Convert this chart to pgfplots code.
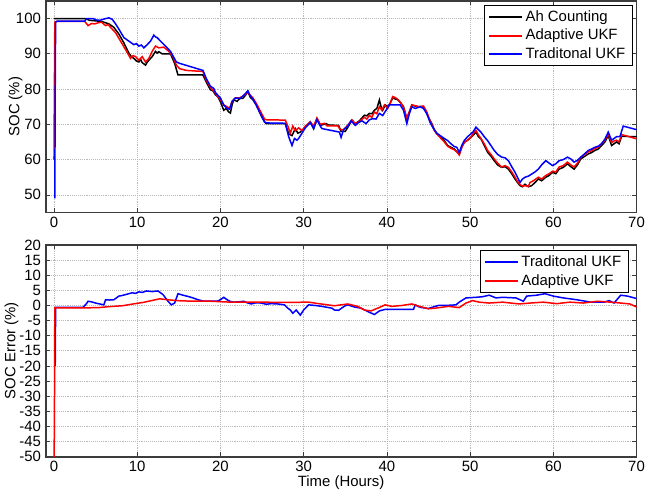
\documentclass[border=0pt]{standalone}
\usepackage{fontspec}
\setmainfont{Liberation Sans}
\usepackage{pgfplots}
\pgfplotsset{compat=1.18}
\usetikzlibrary{calc}

\definecolor{frame}{RGB}{60,60,60}

\pgfplotsset{
  socaxis/.style={
    width=435.75pt, height=156pt, scale only axis,
    xmin=-1, xmax=70,
    xtick={0,10,...,70},
    grid=major,
    grid style={densely dotted, gray!55, line width=0.5pt},
    axis line style={frame, line width=1.4pt},
    tick style={frame, line width=0.5pt},
    tick align=inside,
    major tick length=3pt,
    /pgf/number format/assume math mode=true,
    ticklabel style={font=\fontsize{11}{12}\selectfont},
    label style={font=\fontsize{11}{12}\selectfont},
    legend cell align=left,
    legend style={font=\fontsize{11}{12}\selectfont,
      inner xsep=3pt, inner ysep=2pt, row sep=0pt},
    every axis plot/.append style={line width=1.1pt},
  },
  legk/.style={legend image code/.code={\draw[black, line width=1.4pt] (0cm,0cm) -- (0.85cm,0cm);}},
  legr/.style={legend image code/.code={\draw[red, line width=1.4pt] (0cm,0cm) -- (0.85cm,0cm);}},
  legb/.style={legend image code/.code={\draw[blue, line width=1.4pt] (0cm,0cm) -- (0.85cm,0cm);}},
}

\begin{document}
\begin{tikzpicture}
\begin{axis}[socaxis, name=top,
  ymin=45, ymax=105,
  ytick={50,60,...,100},
  ylabel={SOC (\%)},
  ylabel style={at={(axis description cs:-0.031,0.5)}, anchor=south},
  legend style={at={(axis description cs:0.993,0.98)}, anchor=north east},
]
% Ah counting
\addplot[black, legk] coordinates {
(0,100)(3.7,100)(4.3,99.5)(5.7,99.2)(6.6,98.5)(7.2,97.5)(7.8,95.6)(8.4,93.1)(9,90.2)(9.3,89.2)(9.6,88.7)(9.9,88.0)(10.2,87.7)(10.4,88.5)(10.6,87.5)(11,86.8)(11.2,87.6)(11.4,88.2)(11.8,89.2)(12.2,90.7)(12.4,90.2)(12.6,90.6)(13,90)(14,90)(14.5,87.3)(14.9,84)(17.9,84)(18.3,82)(18.8,79.8)(19.1,79.5)(19.4,78.4)(19.7,77.8)(20,76.4)(20.4,74)(20.7,74.5)(21,73.5)(21.2,73.2)(21.4,75.5)(21.6,77)(22,76.5)(22.3,77.3)(22.7,77.4)(23,78.2)(23.3,79.3)(23.6,77.6)(23.9,77)(24.3,75.5)(24.7,73.5)(25,72)(25.3,70.7)(25.5,70.2)(27.8,70.2)(28.2,67.3)(28.6,66.8)(29,68.8)(29.3,67.5)(29.6,67.8)(30.2,69.2)(30.8,70.7)(31.2,68.8)(31.6,71.6)(32,69.7)(32.7,70.2)(33,69.8)(34.2,69.7)(34.5,68)(35,68)(35.4,69.5)(35.8,71.2)(36.2,70.2)(36.7,71)(37.3,72.6)(37.6,72.4)(37.9,73.1)(38.2,73)(38.5,74)(38.8,74.5)(39.1,76.9)(39.3,75)(39.5,74)(39.8,75.5)(40.1,75)(40.4,76)(40.7,77.5)(41,77.2)(41.3,77)(41.7,76)(42,75)(42.4,71.6)(42.7,73.5)(43,75.5)(43.4,75.2)(43.8,75)(44.4,75)(44.8,73.1)(45.1,71.5)(45.4,70.2)(45.7,68.5)(46,67.3)(46.5,66.5)(46.9,65.4)(47.3,64)(47.7,63.5)(48.1,63)(48.5,62)(48.7,61.5)(49,63.5)(49.3,64.9)(49.7,65.5)(50.1,66.3)(50.4,67)(50.7,67.8)(51,66.5)(51.3,65.9)(51.7,64)(52.1,62.1)(52.5,61)(52.9,59.7)(53.3,58.5)(53.8,57.8)(54.2,58)(54.6,57.3)(55,56)(55.4,54.5)(55.7,53.5)(56,52.6)(56.3,52.3)(56.6,53)(57,52.3)(57.4,52.6)(57.8,53.5)(58.2,54.5)(58.6,54)(59.1,55)(59.5,55.5)(59.9,56.4)(60.3,56)(60.7,57.3)(61.2,57.8)(61.7,58.8)(62.1,58)(62.5,57.3)(62.9,58.5)(63.3,60.2)(63.7,60.8)(64.2,61.6)(64.6,62)(65,62.6)(65.4,63)(65.8,64)(66.2,65)(66.6,66.8)(67,64)(67.3,64.5)(67.6,65)(67.9,64.5)(68.2,66.6)(70,66.5)
};
\addlegendentry{Ah Counting}
% adaptive UKF
\addplot[red, legr] coordinates {
(0,60)(0.05,80)(0.1,99)(0.3,99.2)(3.7,99.2)(4.1,98)(4.5,98.6)(4.9,98.5)(5.3,98.8)(5.7,99)(6.2,98)(6.5,98.3)(6.8,97.5)(7.4,96)(8,93.6)(8.6,91.2)(9.2,88.7)(9.5,89.5)(9.8,89.2)(10.2,88.2)(10.6,89.2)(11,87.7)(11.4,88.7)(11.8,90.7)(12.2,92.2)(12.6,91.7)(13.2,91.9)(13.8,90.7)(14.3,89.2)(14.7,86.8)(15.1,85.8)(15.9,85.3)(17.9,85)(18.3,82.5)(18.8,80.5)(19.4,78.8)(20,77)(20.4,75.5)(20.8,75)(21.1,74.5)(21.4,76.5)(21.8,77.5)(22.3,77.5)(22.7,78)(23.3,79)(23.6,78.2)(23.9,77.5)(24.3,76)(24.7,74.2)(25.3,71.5)(25.5,71.3)(27.8,71.2)(28.1,69.5)(28.4,67.5)(28.7,69.5)(29,68.2)(29.4,69)(29.8,68.2)(30.2,69.5)(30.8,70.7)(31.2,69.5)(31.6,71.8)(32,70)(32.5,70.3)(32.8,69.6)(34.1,69.6)(34.4,68.5)(34.8,68.5)(35.2,69.5)(35.8,71.2)(36.2,70.2)(36.7,70.8)(37.3,72)(37.6,71.5)(37.9,72.5)(38.2,72)(38.5,73.5)(38.8,73)(39.1,75)(39.4,74)(39.7,75.5)(40.1,74.5)(40.4,76)(40.7,77.9)(41,77.6)(41.3,77.1)(41.7,76)(42,74.8)(42.4,71.8)(42.7,73.5)(43,75.5)(43.4,75.3)(43.8,75)(44.4,75.2)(44.8,73.5)(45.1,71.5)(45.4,70)(45.7,68.3)(46,67.3)(46.5,66)(46.9,65)(47.3,63.8)(47.7,63.2)(48.1,62.8)(48.5,62)(48.7,61.3)(49,63.5)(49.3,64.9)(49.7,65.5)(50.1,66.3)(50.4,67.5)(50.7,68.3)(51,67)(51.3,66)(51.7,64.5)(52.1,62.6)(52.5,61.5)(52.9,60.2)(53.3,59)(53.8,57.9)(54.2,58.3)(54.6,57.8)(55,56.5)(55.4,55)(55.7,53.8)(56,52.9)(56.3,52.5)(56.6,52.6)(57,52.4)(57.2,53.5)(57.6,54)(58.2,55)(58.6,54.5)(59.1,55.5)(59.5,56)(59.9,56.7)(60.3,56.5)(60.7,57.9)(61.2,58.3)(61.7,59.3)(62.1,58.5)(62.5,57.9)(62.9,59)(63.3,60.7)(63.7,61.3)(64.2,62.2)(64.6,62.5)(65,63.2)(65.4,63.5)(65.8,64.5)(66.2,65.5)(66.6,67.3)(67,64.8)(67.3,65.3)(67.6,65.5)(67.9,65)(68.2,67.1)(70,65.9)
};
\addlegendentry{Adaptive UKF}
% traditional UKF
\addplot[blue, legb] coordinates {
(0.1,49)(0.15,80)(0.2,99)(0.4,99.3)(3.7,99.3)(3.9,100)(4.7,100)(5.1,99.6)(5.5,99.5)(6.2,100)(6.6,100.2)(7,99.8)(7.4,98.5)(7.8,97)(8.4,94.6)(9,93.6)(9.6,92.6)(9.9,92.9)(10.2,92.2)(10.5,92.5)(10.8,91.7)(11.2,92.6)(11.6,93.6)(12,95.3)(12.2,94.8)(12.4,94.6)(12.8,93.6)(13.4,92.2)(14,90.7)(14.7,87.7)(15.1,87.3)(17.9,85.3)(18.3,83)(18.8,80.8)(19.2,80.2)(19.4,79)(20,77.5)(20.4,75.5)(20.8,74.5)(21.1,74.3)(21.4,76.5)(21.8,77.5)(22.3,77.3)(22.7,78)(23.3,79.5)(23.6,78)(23.9,77.2)(24.3,75.5)(24.7,73.5)(25.3,70.7)(25.5,70.4)(27.8,70.3)(28.2,66.5)(28.6,64)(28.9,66)(29.2,65.5)(29.4,66)(29.8,67.5)(30.2,69)(30.8,70.5)(31.2,68.8)(31.6,71.3)(32,69.5)(32.2,68.8)(34.3,67.8)(34.5,66.3)(34.8,68.5)(35.3,69.5)(35.7,71)(36.2,69.7)(36.6,70.5)(37,71)(37.5,70.2)(37.9,71.3)(38.3,71.6)(38.7,71.5)(39.1,73.1)(39.5,72.5)(39.9,74)(40.3,75.5)(41,75.5)(41.6,75.5)(42,74)(42.4,70.2)(42.7,73)(43,75)(43.4,74.5)(44,75)(44.4,74.5)(44.8,73)(45.2,70.5)(45.6,68.8)(46,67.5)(46.4,66.8)(46.9,66)(47.3,65.4)(47.7,64.5)(48.1,63.7)(48.4,63.5)(48.7,62)(49,64)(49.3,65.4)(49.7,66.5)(50.1,67.3)(50.4,68)(50.7,69.2)(51,68.5)(51.3,67.8)(51.7,66.5)(52.1,65.4)(52.5,64)(52.9,62.6)(53.3,61.5)(53.8,60.7)(54.2,60.5)(54.6,59.7)(55,58)(55.4,56.4)(55.7,55)(56,53.5)(56.3,54.5)(56.6,55)(57,55.3)(57.4,55.9)(57.8,56.5)(58.2,57.3)(58.6,58.5)(59.1,59.7)(59.5,59)(59.9,58.3)(60.3,58.8)(60.7,59.7)(61.2,60)(61.7,60.7)(62.1,60.2)(62.5,59.3)(62.9,59.8)(63.3,60.7)(63.7,61.5)(64.2,62.6)(64.6,63)(65,63.5)(65.4,63.8)(65.8,64.5)(66.2,65.8)(66.6,67.8)(67,65.5)(67.3,66)(67.6,66.5)(68,66.5)(68.4,69.5)(70,68.5)
};
\addlegendentry{Traditonal UKF}
\end{axis}

\begin{axis}[socaxis, name=bot,
  at={($(top.south west)+(0,-24pt)$)}, anchor=north west,
  ymin=-50, ymax=20,
  ytick={-50,-45,...,20},
  xlabel={Time (Hours)},
  xlabel style={at={(axis description cs:0.5,-0.07)}, anchor=north},
  ylabel={SOC Error (\%)},
  ylabel style={at={(axis description cs:-0.038,0.5)}, anchor=south},
  legend style={at={(axis description cs:0.986,0.975)}, anchor=north east},
]
\addplot[blue, legb] coordinates {
(0.15,-20)(0.2,-0.6)(3.5,-0.6)(3.9,0.6)(4.1,1.4)(4.5,1.2)(5,0.8)(5.5,0.5)(6,0.2)(6.2,1.9)(6.7,1.8)(7.2,1.9)(7.8,3.1)(8.2,3.3)(8.6,3.6)(9,3.9)(9.4,4.2)(9.8,4.0)(10.2,4.5)(10.6,4.3)(11.1,4.8)(11.8,4.6)(12.5,4.8)(13.1,3.6)(13.7,1.4)(14.1,0.2)(14.5,0.8)(14.9,3.9)(15.5,3.4)(16.1,3.0)(16.7,2.5)(17.3,1.9)(18,1.4)(19.6,1.4)(20,1.9)(20.4,2.7)(20.8,1.9)(21.2,1.3)(21.6,1.1)(22.2,1.2)(22.8,1.4)(23.2,0.9)(23.7,0.5)(24.3,0.9)(24.9,0.8)(25.5,0.4)(26.1,0.6)(26.9,0.5)(27.7,0.2)(28.1,-0.9)(28.4,-1.5)(28.7,-2.6)(29.1,-1.5)(29.6,-3.2)(30,-1.5)(30.6,0.2)(31.4,0)(32.2,-0.3)(33.4,-0.9)(33.7,-1.5)(34.2,-1.6)(34.6,-0.8)(35,-0.1)(35.3,0.2)(36.1,-0.5)(36.9,-0.9)(37.7,-2)(38.1,-2.5)(38.5,-3)(39.1,-1.8)(39.8,-1.3)(43.2,-1.3)(43.4,0.2)(43.8,-0.4)(44.2,-0.7)(45,-1)(45.8,-0.3)(46.2,0)(47,0)(48.3,0.2)(48.7,1.1)(49.5,2.5)(50.7,2.7)(51.5,2.9)(52.3,3.4)(53.1,2.5)(53.9,2.7)(55.5,2.5)(56.4,1.4)(56.8,3.1)(58,3.4)(59,3.9)(60,3.1)(61.2,2.5)(62.8,1.9)(64.5,1.1)(66.1,1.1)(66.7,1.6)(67.3,0.8)(68.1,3.4)(68.9,3.1)(70,2.3)
};
\addlegendentry{Traditonal UKF}
\addplot[red, legr] coordinates {
(0,-52)(0.05,-40)(0.1,-0.8)(3.7,-0.8)(5.4,-0.7)(6.5,-0.4)(8.2,-0.1)(9.5,0.5)(10.7,1.0)(11.7,1.6)(12.7,2.2)(13.7,1.9)(14.7,1.6)(16.7,1.4)(18.8,1.4)(21.2,1.1)(24.9,1.1)(27.7,1.0)(30.6,1.1)(31.8,0.6)(33.7,-0.1)(35.3,0.5)(36.5,-0.3)(37.3,-1.5)(38.1,-1.8)(38.9,-0.9)(39.8,0.2)(40.6,-0.3)(41.8,0)(43,0.5)(43.8,-0.2)(45,-1.1)(45.8,-0.9)(47.4,-0.3)(48.7,-0.7)(49.5,0.8)(50.3,1.6)(51.1,1.1)(52.3,0.8)(53.9,1.1)(55.9,0.5)(57.2,0.8)(58.8,1.1)(60.4,0.6)(62,1.1)(63.6,0.8)(65.3,1.4)(66.9,1.1)(68.1,0.8)(69.2,0.5)(70,-0.5)
};
\addlegendentry{Adaptive UKF}
\end{axis}
% keep the white margin to the right of the axes
\path (top.north east) ++(21pt,0pt);
\end{tikzpicture}
\end{document}
